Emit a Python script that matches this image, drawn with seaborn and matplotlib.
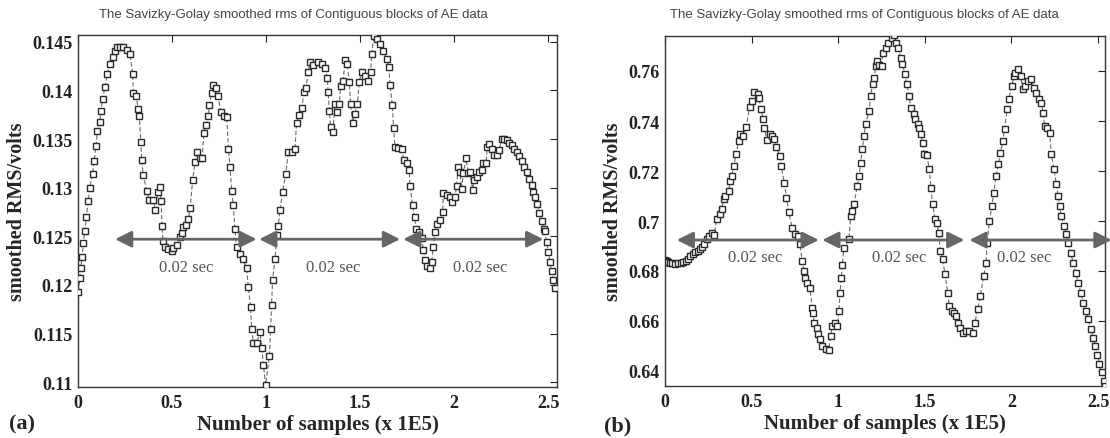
import numpy as np
import pandas as pd
import matplotlib
matplotlib.use("Agg")
import matplotlib.pyplot as plt
import seaborn as sns

# ---------------- data ----------------
a_x = [0.002, 0.011, 0.014, 0.023, 0.027, 0.037, 0.044, 0.055, 0.062, 0.078, 0.085, 0.096, 0.103, 0.117, 0.121,
       0.131, 0.144, 0.156, 0.170, 0.184, 0.197, 0.209, 0.224, 0.241, 0.259, 0.277, 0.291, 0.294, 0.309, 0.321,
       0.326, 0.334, 0.339, 0.347, 0.365, 0.379, 0.401, 0.410, 0.427, 0.436, 0.442, 0.447, 0.452, 0.463, 0.480,
       0.498, 0.507, 0.525, 0.543, 0.551, 0.560, 0.574, 0.587, 0.596, 0.610, 0.622, 0.631, 0.649, 0.660, 0.670,
       0.681, 0.693, 0.699, 0.711, 0.720, 0.734, 0.746, 0.759, 0.777, 0.791, 0.800, 0.809, 0.817, 0.826, 0.835,
       0.844, 0.862, 0.876, 0.897, 0.906, 0.918, 0.924, 0.933, 0.950, 0.968, 0.977, 0.986, 0.998, 1.018, 1.025,
       1.030, 1.035, 1.048, 1.057, 1.066, 1.074, 1.089, 1.105, 1.119, 1.137, 1.154, 1.163, 1.177, 1.190, 1.202,
       1.213, 1.225, 1.234, 1.252, 1.278, 1.296, 1.314, 1.326, 1.331, 1.337, 1.344, 1.355, 1.367, 1.380, 1.390,
       1.397, 1.411, 1.420, 1.432, 1.443, 1.450, 1.461, 1.473, 1.486, 1.496, 1.509, 1.526, 1.544, 1.557, 1.562,
       1.574, 1.592, 1.606, 1.624, 1.642, 1.653, 1.660, 1.672, 1.679, 1.686, 1.704, 1.722, 1.734, 1.748, 1.762,
       1.766, 1.780, 1.790, 1.798, 1.815, 1.828, 1.837, 1.846, 1.858, 1.872, 1.881, 1.890, 1.899, 1.911, 1.926,
       1.940, 1.943, 1.961, 1.979, 1.988, 2.005, 2.014, 2.023, 2.032, 2.041, 2.050, 2.064, 2.076, 2.085, 2.099,
       2.106, 2.121, 2.135, 2.148, 2.156, 2.171, 2.177, 2.188, 2.200, 2.213, 2.227, 2.241, 2.253, 2.266, 2.280,
       2.294, 2.307, 2.319, 2.333, 2.348, 2.360, 2.372, 2.386, 2.401, 2.413, 2.422, 2.431, 2.443, 2.454, 2.466,
       2.477, 2.484, 2.493, 2.502, 2.511, 2.519, 2.528, 2.537]
a_y = [0.1193, 0.1207, 0.1217, 0.1229, 0.1243, 0.1255, 0.1270, 0.1286, 0.1300, 0.1314, 0.1327, 0.1343, 0.1358,
       0.1368, 0.1379, 0.1391, 0.1404, 0.1417, 0.1427, 0.1434, 0.1441, 0.1445, 0.1445, 0.1445, 0.1442, 0.1437,
       0.1417, 0.1397, 0.1394, 0.1381, 0.1374, 0.1347, 0.1328, 0.1313, 0.1297, 0.1287, 0.1287, 0.1277, 0.1296,
       0.1301, 0.1286, 0.1261, 0.1245, 0.1239, 0.1237, 0.1235, 0.1238, 0.1241, 0.1249, 0.1253, 0.1260, 0.1262,
       0.1268, 0.1279, 0.1308, 0.1326, 0.1337, 0.1330, 0.1331, 0.1356, 0.1364, 0.1374, 0.1385, 0.1397, 0.1406,
       0.1402, 0.1394, 0.1378, 0.1374, 0.1373, 0.1340, 0.1321, 0.1297, 0.1282, 0.1257, 0.1239, 0.1232, 0.1227,
       0.1217, 0.1198, 0.1177, 0.1155, 0.1140, 0.1140, 0.1152, 0.1135, 0.1118, 0.1097, 0.1127, 0.1155, 0.1179,
       0.1205, 0.1227, 0.1251, 0.1261, 0.1277, 0.1296, 0.1314, 0.1337, 0.1337, 0.1340, 0.1367, 0.1375, 0.1382,
       0.1398, 0.1403, 0.1419, 0.1429, 0.1426, 0.1429, 0.1427, 0.1423, 0.1413, 0.1398, 0.1379, 0.1362, 0.1357,
       0.1386, 0.1378, 0.1386, 0.1405, 0.1410, 0.1431, 0.1427, 0.1409, 0.1386, 0.1367, 0.1376, 0.1386, 0.1409,
       0.1419, 0.1415, 0.1410, 0.1419, 0.1437, 0.1456, 0.1453, 0.1448, 0.1441, 0.1432, 0.1424, 0.1406, 0.1385,
       0.1361, 0.1342, 0.1341, 0.1340, 0.1328, 0.1325, 0.1318, 0.1302, 0.1282, 0.1270, 0.1258, 0.1254, 0.1248,
       0.1236, 0.1226, 0.1219, 0.1217, 0.1224, 0.1239, 0.1254, 0.1263, 0.1267, 0.1275, 0.1294, 0.1292, 0.1290,
       0.1285, 0.1290, 0.1302, 0.1321, 0.1316, 0.1299, 0.1315, 0.1330, 0.1315, 0.1316, 0.1298, 0.1308, 0.1311,
       0.1316, 0.1318, 0.1325, 0.1325, 0.1342, 0.1345, 0.1340, 0.1334, 0.1334, 0.1339, 0.1350, 0.1350, 0.1349,
       0.1346, 0.1344, 0.1340, 0.1337, 0.1333, 0.1327, 0.1321, 0.1316, 0.1309, 0.1303, 0.1296, 0.1290, 0.1283,
       0.1274, 0.1266, 0.1258, 0.1255, 0.1244, 0.1234, 0.1224, 0.1214, 0.1205, 0.1197]

b_x = [0.000, 0.010, 0.020, 0.030, 0.040, 0.058, 0.075, 0.090, 0.105, 0.120, 0.135, 0.145, 0.160, 0.175, 0.190,
       0.203, 0.215, 0.228, 0.241, 0.255, 0.270, 0.283, 0.299, 0.315, 0.328, 0.338, 0.347, 0.367, 0.376, 0.386,
       0.396, 0.411, 0.425, 0.434, 0.450, 0.469, 0.489, 0.502, 0.516, 0.535, 0.541, 0.554, 0.566, 0.573, 0.589,
       0.604, 0.618, 0.631, 0.643, 0.662, 0.670, 0.689, 0.701, 0.714, 0.734, 0.753, 0.766, 0.778, 0.792, 0.802,
       0.811, 0.821, 0.836, 0.850, 0.856, 0.860, 0.875, 0.883, 0.894, 0.908, 0.927, 0.946, 0.956, 0.966, 0.979,
       0.995, 1.004, 1.010, 1.018, 1.023, 1.033, 1.062, 1.072, 1.081, 1.091, 1.110, 1.120, 1.129, 1.139, 1.149,
       1.159, 1.178, 1.188, 1.198, 1.207, 1.217, 1.226, 1.236, 1.250, 1.256, 1.275, 1.288, 1.313, 1.323, 1.332,
       1.346, 1.361, 1.371, 1.385, 1.396, 1.410, 1.419, 1.435, 1.442, 1.458, 1.467, 1.477, 1.487, 1.497, 1.512,
       1.526, 1.535, 1.545, 1.559, 1.570, 1.580, 1.589, 1.603, 1.616, 1.632, 1.641, 1.655, 1.666, 1.679, 1.693,
       1.704, 1.718, 1.737, 1.756, 1.776, 1.789, 1.805, 1.820, 1.840, 1.854, 1.859, 1.873, 1.887, 1.898, 1.911,
       1.925, 1.936, 1.950, 1.960, 1.975, 1.983, 2.002, 2.014, 2.022, 2.037, 2.053, 2.066, 2.080, 2.095, 2.115,
       2.130, 2.144, 2.157, 2.173, 2.182, 2.192, 2.207, 2.221, 2.230, 2.246, 2.259, 2.269, 2.278, 2.288, 2.304,
       2.317, 2.327, 2.342, 2.356, 2.370, 2.385, 2.401, 2.414, 2.428, 2.443, 2.459, 2.472, 2.484, 2.496, 2.508,
       2.520, 2.532, 2.540]
b_y = [0.6844, 0.6840, 0.6836, 0.6833, 0.6831, 0.6830, 0.6831, 0.6833, 0.6837, 0.6842, 0.6850, 0.6860, 0.6868,
       0.6876, 0.6882, 0.6887, 0.6897, 0.6910, 0.6927, 0.6940, 0.6953, 0.6945, 0.7007, 0.7027, 0.7049, 0.7087,
       0.7100, 0.7120, 0.7160, 0.7180, 0.7220, 0.7267, 0.7320, 0.7347, 0.7340, 0.7377, 0.7457, 0.7480, 0.7516,
       0.7510, 0.7493, 0.7450, 0.7407, 0.7373, 0.7323, 0.7347, 0.7340, 0.7330, 0.7297, 0.7260, 0.7220, 0.7153,
       0.7093, 0.7036, 0.6973, 0.6947, 0.6940, 0.6910, 0.6842, 0.6800, 0.6773, 0.6753, 0.6733, 0.6653, 0.6631,
       0.6593, 0.6573, 0.6547, 0.6529, 0.6500, 0.6489, 0.6484, 0.6540, 0.6580, 0.6593, 0.6580, 0.6640, 0.6713,
       0.6773, 0.6823, 0.6893, 0.6927, 0.7020, 0.7040, 0.7067, 0.7140, 0.7180, 0.7233, 0.7287, 0.7340, 0.7390,
       0.7440, 0.7500, 0.7550, 0.7573, 0.7620, 0.7640, 0.7623, 0.7620, 0.7673, 0.7693, 0.7713, 0.7733, 0.7743,
       0.7713, 0.7693, 0.7653, 0.7627, 0.7587, 0.7547, 0.7500, 0.7453, 0.7427, 0.7407, 0.7387, 0.7373, 0.7347,
       0.7313, 0.7267, 0.7263, 0.7207, 0.7133, 0.7067, 0.7007, 0.6993, 0.6953, 0.6880, 0.6847, 0.6787, 0.6713,
       0.6660, 0.6640, 0.6633, 0.6620, 0.6593, 0.6573, 0.6553, 0.6560, 0.6560, 0.6553, 0.6593, 0.6647, 0.6700,
       0.6780, 0.6833, 0.6913, 0.7000, 0.7060, 0.7113, 0.7180, 0.7227, 0.7273, 0.7320, 0.7367, 0.7447, 0.7487,
       0.7540, 0.7580, 0.7593, 0.7607, 0.7580, 0.7527, 0.7540, 0.7560, 0.7567, 0.7533, 0.7513, 0.7487, 0.7473,
       0.7433, 0.7380, 0.7373, 0.7353, 0.7267, 0.7207, 0.7147, 0.7100, 0.7060, 0.7020, 0.6980, 0.6947, 0.6913,
       0.6873, 0.6833, 0.6793, 0.6753, 0.6713, 0.6673, 0.6640, 0.6607, 0.6567, 0.6533, 0.6500, 0.6465, 0.6430,
       0.6395, 0.6360, 0.6340]

x_ticks = [0, 0.5, 1, 1.5, 2, 2.5]
x_tick_labels = ["0", "0.5", "1", "1.5", "2", "2.5"]
a_y_ticks = [0.11, 0.115, 0.12, 0.125, 0.13, 0.135, 0.14, 0.145]
a_y_tick_labels = ["0.11", "0.115", "0.12", "0.125", "0.13", "0.135", "0.14", "0.145"]
b_y_ticks = [0.64, 0.66, 0.68, 0.70, 0.72, 0.74, 0.76]
b_y_tick_labels = ["0.64", "0.66", "0.68", "0.7", "0.72", "0.74", "0.76"]

# interval arrows (start, end) and their labels
a_arrows = [(0.197, 0.950), (0.964, 1.713), (1.730, 2.475)]
a_arrow_level = 0.1247
a_label_x = [0.578, 1.358, 2.138]
a_label_level = 0.1218
b_arrows = [(0.068, 0.888), (0.908, 1.728), (1.757, 2.578)]
b_arrow_level = 0.6924
b_label_x = [0.521, 1.350, 2.074]
b_label_level = 0.6858

title_text = "The Savizky-Golay smoothed rms of Contiguous blocks of AE data"
interval_text = "0.02 sec"
x_label = "Number of samples (x 1E5)"
y_label = "smoothed RMS/volts"

# ---------------- styling ----------------
sns.set_style("white")
plt.rcParams["font.family"] = ["Liberation Serif", "DejaVu Serif"]

W, H = 1110, 439
fig = plt.figure(figsize=(W / 100, H / 100), dpi=100)


def px_axes(x0, y0, x1, y1):
    return fig.add_axes([x0 / W, 1 - y1 / H, (x1 - x0) / W, (y1 - y0) / H])


ax_a = px_axes(78, 36, 557, 388)
ax_b = px_axes(665, 37, 1105, 387)

serif_bold = dict(family="Liberation Serif", weight="bold")


def draw(ax, xs, ys, xlim, ylim, yticks, yticklabels, arrows, level, lab_x, lab_level):
    df = pd.DataFrame({"x": xs, "y": ys})
    sns.lineplot(data=df, x="x", y="y", ax=ax, sort=False, estimator=None,
                 color="#6a6a6a", linewidth=0.8, linestyle=(0, (4, 2)),
                 marker="s", markersize=3.8, markerfacecolor="white",
                 markeredgecolor="#2a2a2a", markeredgewidth=1.0, zorder=3)
    ax.set_xlim(*xlim)
    ax.set_ylim(*ylim)
    ax.set_xticks(x_ticks)
    ax.set_xticklabels(x_tick_labels, fontdict=serif_bold, fontsize=13)
    ax.set_yticks(yticks)
    ax.set_yticklabels(yticklabels, fontdict=serif_bold, fontsize=13)
    ax.tick_params(direction="in", length=5, width=0.8, top=True, right=True,
                   colors="#222222", pad=5)
    ax.tick_params(axis="y", pad=4)
    for sp in ax.spines.values():
        sp.set_visible(True)
        sp.set_color("#333333")
        sp.set_linewidth(1.0)
    ax.set_xlabel(x_label, fontsize=15, labelpad=2, **serif_bold)
    ax.set_ylabel(y_label, fontsize=14.5, labelpad=4, **serif_bold)
    for (s, e) in arrows:
        ax.annotate("", xy=(e, level), xytext=(s, level),
                    arrowprops=dict(arrowstyle="<|-|>,head_length=0.9,head_width=0.45",
                                    color="#666666", lw=2.0, shrinkA=0, shrinkB=0,
                                    mutation_scale=11),
                    annotation_clip=False, zorder=4)
    for lx in lab_x:
        ax.text(lx, lab_level, interval_text, ha="center", va="center",
                fontsize=12, color="#555555", family="Liberation Serif", zorder=5)


draw(ax_a, a_x, a_y, (0, 2.548), (0.1095, 0.1457), a_y_ticks, a_y_tick_labels,
     a_arrows, a_arrow_level, a_label_x, a_label_level)
draw(ax_b, b_x, b_y, (0, 2.54), (0.634, 0.774), b_y_ticks, b_y_tick_labels,
     b_arrows, b_arrow_level, b_label_x, b_label_level)

# titles
fig.text(293 / W, 1 - 15 / H, title_text, ha="center", va="center",
         fontsize=9.5, color="#444444", family="Liberation Sans")
fig.text(864 / W, 1 - 15 / H, title_text, ha="center", va="center",
         fontsize=9.5, color="#444444", family="Liberation Sans")

# panel letters
fig.text(22 / W, 1 - 424 / H, "(a)", ha="center", va="center", fontsize=16, **serif_bold)
fig.text(618 / W, 1 - 426 / H, "(b)", ha="center", va="center", fontsize=16, **serif_bold)

fig.savefig("out.png", dpi=100, facecolor="white")
